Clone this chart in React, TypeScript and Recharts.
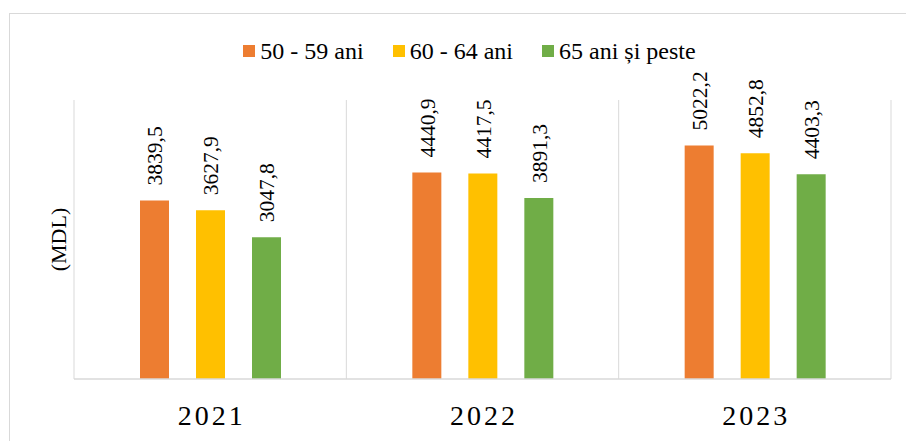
import { BarChart, Bar, XAxis, YAxis, CartesianGrid, Legend, LabelList, Label } from "recharts";

const years = ["2021", "2022", "2023"];
const age50to59 = [3839.5, 4440.9, 5022.2];
const age60to64 = [3627.9, 4417.5, 4852.8];
const age65plus = [3047.8, 3891.3, 4403.3];

const seriesNames = ["50 - 59 ani", "60 - 64 ani", "65 ani și peste"];
const seriesColors = ["#ED7D31", "#FFC000", "#70AD47"];

const FONT = '"Liberation Serif", "Times New Roman", serif';

const data = years.map((y, i) => ({
  year: y,
  a: age50to59[i],
  b: age60to64[i],
  c: age65plus[i],
}));

function fmt(v: number): string {
  return v.toFixed(1).replace(".", ",");
}

function ValueLabel(props: any) {
  const { x, y, width, value } = props;
  const cx = x + width / 2 + 1;
  const ty = y - 15;
  return (
    <text
      x={cx}
      y={ty}
      transform={`rotate(-90, ${cx}, ${ty})`}
      textAnchor="start"
      dominantBaseline="central"
      fontFamily={FONT}
      fontSize={21.5}
      fill="#000"
    >
      {fmt(value)}
    </text>
  );
}

function YearTick(props: any) {
  const { x, y, payload } = props;
  return (
    <text
      x={x + 1.5}
      y={y}
      dy={46}
      textAnchor="middle"
      style={{ fontFamily: FONT, fontSize: 28, letterSpacing: 3, fill: "#000" }}
    >
      {payload.value}
    </text>
  );
}

function LegendContent() {
  return (
    <div
      style={{
        display: "flex",
        justifyContent: "center",
        gap: 29,
        fontFamily: FONT,
        fontSize: 24,
        lineHeight: "26px",
        color: "#000",
      }}
    >
      {seriesNames.map((n, i) => (
        <div key={n} style={{ display: "flex", alignItems: "center" }}>
          <span
            style={{
              display: "inline-block",
              width: 12,
              height: 12,
              background: seriesColors[i],
              marginRight: 5,
            }}
          />
          <span>{n}</span>
        </div>
      ))}
    </div>
  );
}

export default function App() {
  const keys = ["a", "b", "c"];
  return (
    <div
      style={{
        position: "absolute",
        left: 0,
        top: 0,
        width: 906,
        height: 441,
        overflow: "hidden",
        background: "#fff",
      }}
    >
      <div
        style={{
          position: "absolute",
          left: 9,
          top: 13,
          width: 960,
          height: 500,
          border: "1px solid #d9d9d9",
        }}
      />
      <div style={{ position: "absolute", left: 0, top: 0 }}>
        <BarChart
          width={906}
          height={441}
          data={data}
          margin={{ top: 74, right: 15, left: 42, bottom: 32 }}
          barSize={29}
          barGap={27}
        >
          <CartesianGrid
            horizontal={false}
            stroke="#d9d9d9"
            strokeWidth={1}
            verticalCoordinatesGenerator={({ offset }: any) =>
              years.map((_, i) => offset.left + (i * offset.width) / years.length).concat([offset.left + offset.width])
            }
          />
          <XAxis
            dataKey="year"
            axisLine={{ stroke: "#d9d9d9", strokeWidth: 1.5 }}
            tickLine={false}
            tickSize={0}
            tickMargin={0}
            height={30}
            tick={<YearTick />}
            interval={0}
          />
          <YAxis
            domain={[0, 6000]}
            tick={false}
            axisLine={false}
            tickLine={false}
            width={32}
          >
            <Label
              value="(MDL)"
              angle={-90}
              position="center"
              style={{ fontFamily: FONT, fontSize: 22, fill: "#000" }}
            />
          </YAxis>
          <Legend
            verticalAlign="top"
            content={<LegendContent />}
            wrapperStyle={{ top: 38, left: 32, width: 875 }}
          />
          {keys.map((k, i) => (
            <Bar
              key={k}
              dataKey={k}
              name={seriesNames[i]}
              fill={seriesColors[i]}
              isAnimationActive={false}
            >
              <LabelList dataKey={k} content={<ValueLabel />} />
            </Bar>
          ))}
        </BarChart>
      </div>
    </div>
  );
}
